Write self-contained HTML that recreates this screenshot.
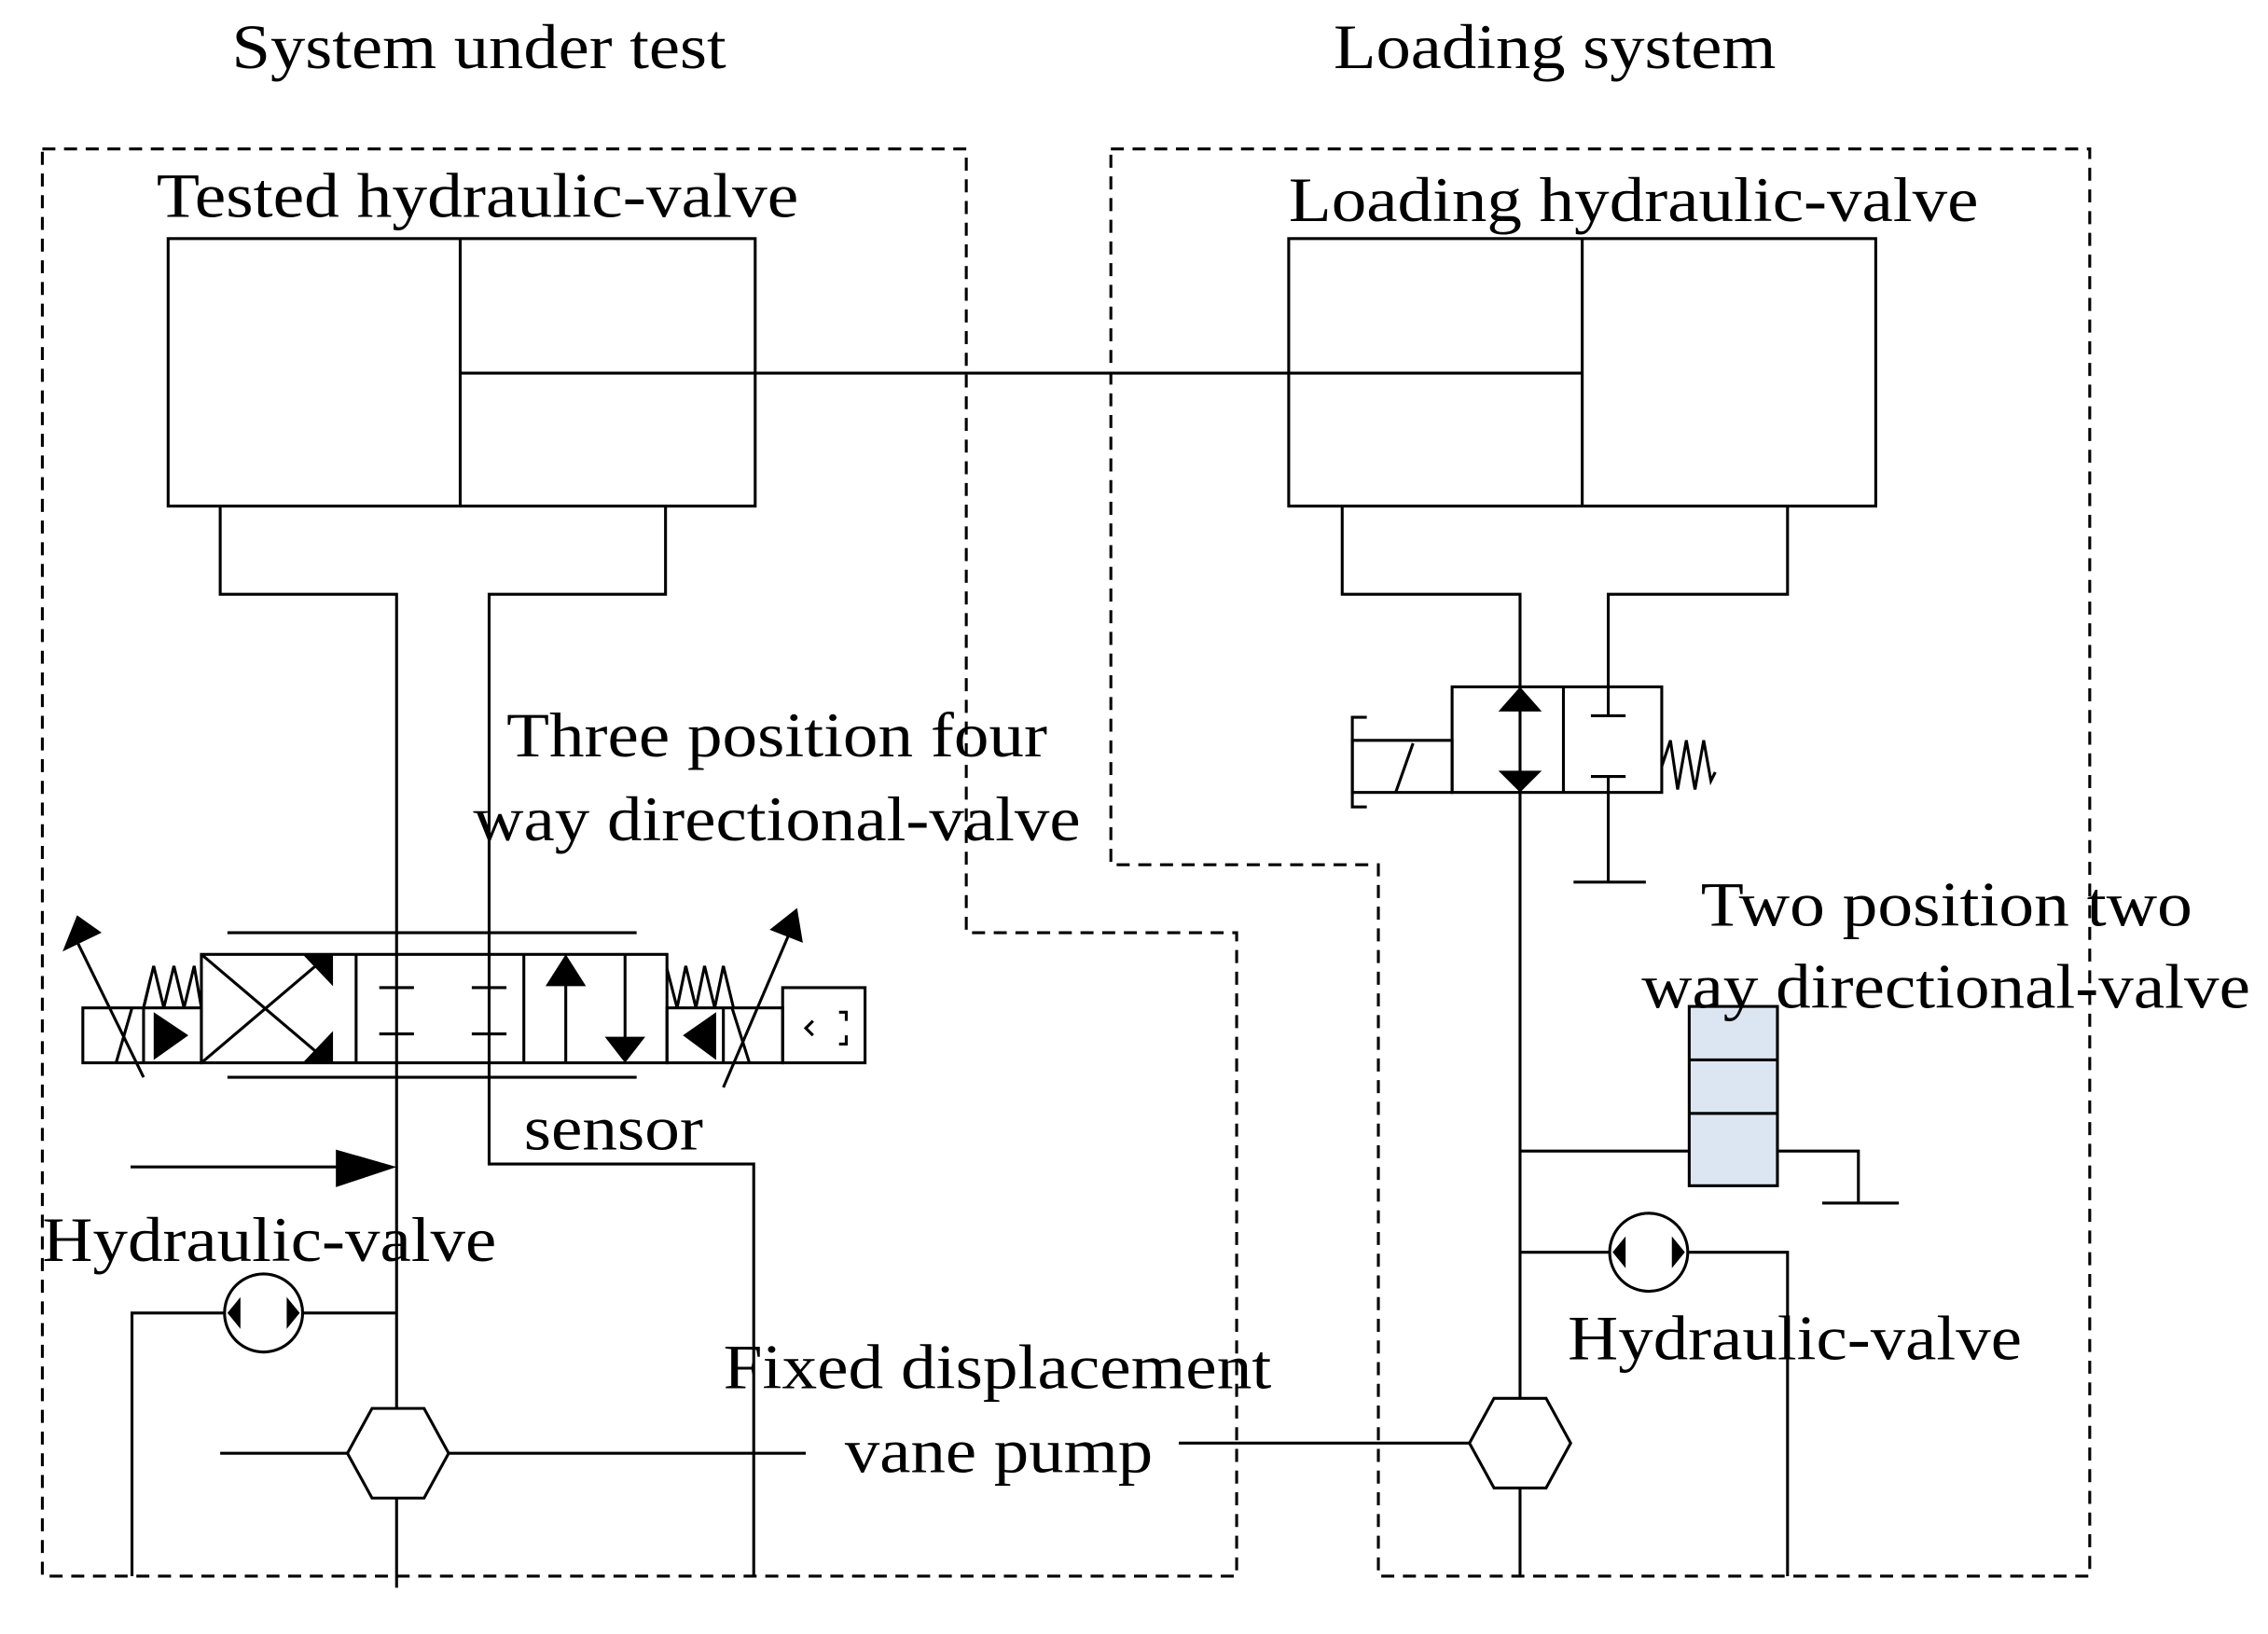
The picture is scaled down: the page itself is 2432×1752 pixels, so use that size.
<!DOCTYPE html>
<html><head><style>html,body{margin:0;padding:0;background:#fff}svg{display:block}</style></head><body>
<svg width="2432" height="1752" viewBox="0 0 1568 1130" xmlns="http://www.w3.org/2000/svg">
<g fill="none" stroke="#000" stroke-width="2">
<polyline stroke-dasharray="9,6" points="29,103 668,103 668,645 855,645 855,1090 29,1090 29,103"/>
<polyline stroke-dasharray="9,6" points="768,103 1445,103 1445,1090 953,1090 953,598 768,598 768,103"/>
<rect x="116" y="165" width="406" height="185"/><line x1="318" y1="165" x2="318" y2="350"/>
<rect x="891" y="165" width="406" height="185"/><line x1="1094" y1="165" x2="1094" y2="350"/>
<line x1="318" y1="258" x2="1094" y2="258"/>
<polyline points="152,350 152,411 274,411 274,1098"/>
<polyline points="460,350 460,411 338,411 338,805 521,805 521,1090"/>
<polyline points="928,350 928,411 1051,411 1051,1090"/>
<polyline points="1236,350 1236,411 1112,411 1112,495"/>
<line x1="1100" y1="495" x2="1124" y2="495"/>
<line x1="1100" y1="537" x2="1124" y2="537"/>
<line x1="1112" y1="537" x2="1112" y2="610"/>
<line x1="1088" y1="610" x2="1138" y2="610"/>
<rect x="1004" y="475" width="145" height="73"/><line x1="1081" y1="475" x2="1081" y2="548"/>
<rect x="935" y="512" width="69" height="36"/>
<polyline points="945,496 935,496 935,558 945,558"/>
<line x1="965" y1="548" x2="977" y2="514"/>
<polyline points="1149,530 1155,512 1160,546 1166,512 1172,546 1178,512 1183,540 1186,534"/>
<rect x="139" y="660" width="322" height="75"/>
<line x1="246" y1="660" x2="246" y2="735"/><line x1="362" y1="660" x2="362" y2="735"/>
<line x1="157" y1="645" x2="440" y2="645"/><line x1="157" y1="745" x2="440" y2="745"/>
<line x1="139" y1="660" x2="225" y2="733"/><line x1="139" y1="735" x2="225" y2="662"/>
<line x1="262" y1="683" x2="286" y2="683"/><line x1="326" y1="683" x2="350" y2="683"/>
<line x1="262" y1="715" x2="286" y2="715"/><line x1="326" y1="715" x2="350" y2="715"/>
<line x1="391" y1="670" x2="391" y2="735"/><line x1="432" y1="660" x2="432" y2="725"/>
<rect x="57" y="697" width="82" height="38"/>
<line x1="99" y1="697" x2="99" y2="735"/>
<polyline points="99,697 106,668 113,697 120,668 127,697 134,668 139,697"/>
<line x1="99" y1="697" x2="104" y2="676"/>
<line x1="50" y1="645" x2="99" y2="745"/>
<line x1="80" y1="735" x2="91" y2="697"/>
<rect x="461" y="697" width="80" height="38"/>
<line x1="500" y1="697" x2="500" y2="735"/>
<polyline points="461,670 468,697 474,668 481,697 487,668 494,697 500,668 507,697"/>
<line x1="548" y1="640" x2="500" y2="752"/><line x1="506" y1="697" x2="518" y2="735"/>
<rect x="541" y="683" width="57" height="52"/>
<polyline points="562,706 557,711 562,716"/><polyline points="580,700 585,700 585,706"/><polyline points="585,716 585,722 580,722"/>
<line x1="90" y1="807" x2="235" y2="807"/>
<polyline points="91,1090 91,908 155,908"/><line x1="209" y1="908" x2="274" y2="908"/>
<circle cx="182" cy="908" r="27"/>
<circle cx="1140" cy="866" r="27"/>
<line x1="1051" y1="866" x2="1113" y2="866"/><polyline points="1167,866 1236,866 1236,1090"/>
<line x1="152" y1="1005" x2="240" y2="1005"/><line x1="310" y1="1005" x2="557" y2="1005"/>
<line x1="815" y1="998" x2="1016" y2="998"/>
<polygon fill="#fff" points="240,1005 257,974 293,974 310,1005 293,1036 257,1036"/>
<polygon fill="#fff" points="1016,998 1033,967 1069,967 1086,998 1069,1029 1033,1029"/>
<polyline points="1051,796 1168,796"/><polyline points="1229,796 1285,796 1285,832"/>
<line x1="1260" y1="832" x2="1313" y2="832"/>
<rect x="1168" y="696" width="61" height="124" fill="#dce6f2"/>
<line x1="1168" y1="733" x2="1229" y2="733"/><line x1="1168" y1="770" x2="1229" y2="770"/>
</g>
<g fill="#000">
<polygon points="1036,492 1066,492 1051,475"/><polygon points="1036,533 1066,533 1051,548"/>
<polygon points="209,660 230,660 230,682"/><polygon points="209,735 230,735 230,713"/>
<polygon points="377,682 405,682 391,660"/><polygon points="418,717 446,717 432,735"/>
<polygon points="106,700 106,733 130,716"/><polygon points="495,700 495,733 472,716"/>
<polygon points="43,658 70,645 53,633"/><polygon points="532,643 555,652 551,628"/>
<polygon points="232,795 232,821 274,807"/>
<polygon points="157,908 166,897 166,919"/><polygon points="207,908 198,897 198,919"/>
<polygon points="1115,866 1124,855 1124,877"/><polygon points="1165,866 1156,855 1156,877"/>
</g>
<g font-family="Liberation Serif, serif" font-size="44" fill="#000" lengthAdjust="spacingAndGlyphs">
<text x="160" y="47" textLength="342" lengthAdjust="spacingAndGlyphs">System under test</text>
<text x="922" y="47" textLength="306" lengthAdjust="spacingAndGlyphs">Loading system</text>
<text x="108" y="150" textLength="444" lengthAdjust="spacingAndGlyphs">Tested hydraulic-valve</text>
<text x="891" y="153" textLength="477" lengthAdjust="spacingAndGlyphs">Loading hydraulic-valve</text>
<text x="350" y="523" textLength="374" lengthAdjust="spacingAndGlyphs">Three position four</text>
<text x="327" y="581" textLength="420" lengthAdjust="spacingAndGlyphs">way directional-valve</text>
<text x="1176" y="640" textLength="340" lengthAdjust="spacingAndGlyphs">Two position two</text>
<text x="1135" y="697" textLength="421" lengthAdjust="spacingAndGlyphs">way directional-valve</text>
<text x="362" y="795" textLength="124" lengthAdjust="spacingAndGlyphs">sensor</text>
<text x="29" y="872" textLength="314" lengthAdjust="spacingAndGlyphs">Hydraulic-valve</text>
<text x="1084" y="940" textLength="314" lengthAdjust="spacingAndGlyphs">Hydraulic-valve</text>
<text x="500" y="960" textLength="379" lengthAdjust="spacingAndGlyphs">Fixed displacement</text>
<text x="584" y="1018" textLength="213" lengthAdjust="spacingAndGlyphs">vane pump</text>
</g>
</svg>
</body></html>
